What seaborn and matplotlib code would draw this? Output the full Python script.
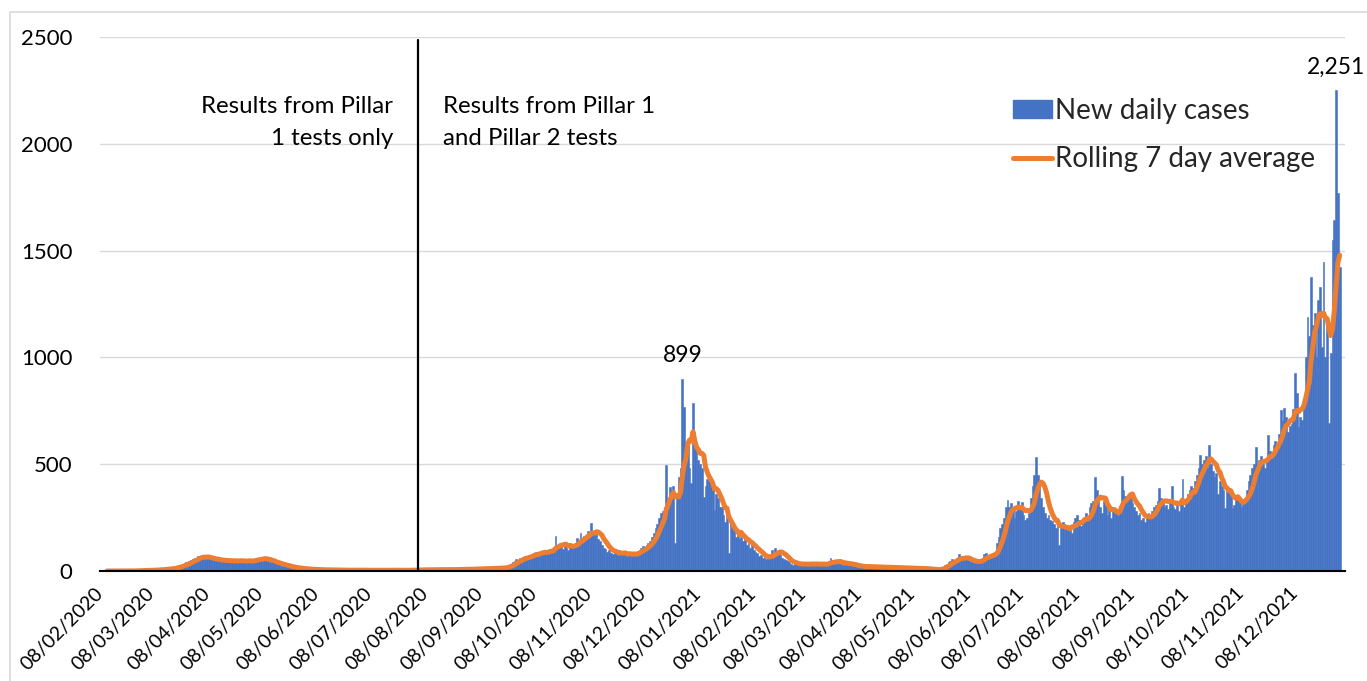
import numpy as np
import pandas as pd
import matplotlib
matplotlib.use("Agg")
import matplotlib.pyplot as plt
import matplotlib.transforms as mtransforms
import seaborn as sns
from matplotlib.patches import Patch, Rectangle
from matplotlib.lines import Line2D

# ---------------- data (new daily cases) ----------------
feb_2020 = [0, 0, 1, 0, 0, 1, 0, 0, 0, 1, 0, 0, 1, 0, 1, 0, 1, 2]  # from 12 Feb
mar_2020 = [1, 2, 1, 3, 2, 4, 3, 5, 4, 6, 5, 7, 6, 8, 9, 8, 10, 12, 14, 13, 18, 20, 24, 22, 30, 35, 40, 38, 45, 50, 55]
apr_2020 = [60, 62, 70, 68, 72, 65, 58, 66, 60, 55, 52, 58, 50, 48, 55, 45, 50, 47, 52, 44, 49, 46, 50, 42, 48, 53, 45, 50, 40, 47]
may_2020 = [48, 52, 44, 50, 58, 55, 62, 60, 53, 65, 50, 48, 42, 45, 40, 36, 32, 35, 28, 25, 27, 22, 20, 18, 17, 15, 14, 12, 13, 10, 11]
jun_2020 = [9, 8, 10, 7, 8, 6, 7, 6, 5, 7, 6, 5, 4, 6, 5, 4, 5, 4, 3, 5, 4, 3, 4, 5, 3, 4, 3, 4, 5, 3]
jul_2020 = [4, 3, 5, 4, 3, 4, 2, 3, 4, 5, 3, 4, 3, 2, 4, 3, 5, 4, 3, 4, 3, 5, 4, 3, 2, 4, 3, 5, 4, 3, 4]
aug_2020 = [4, 5, 6, 4, 5, 7, 6, 5, 8, 6, 7, 5, 6, 8, 7, 6, 5, 7, 8, 6, 5, 7, 6, 8, 9, 7, 6, 8, 7, 9, 8]
sep_2020 = [8, 9, 10, 8, 11, 9, 12, 10, 11, 13, 12, 10, 14, 12, 11, 15, 13, 14, 12, 16, 18, 15, 20, 28, 35, 40, 45, 55, 50, 60]
oct_2020 = [55, 65, 70, 62, 75, 68, 80, 85, 90, 78, 82, 95, 88, 92, 85, 90, 105, 95, 110, 164, 120, 120, 130, 105, 125, 115, 100, 131, 110, 120, 125]
nov_2020 = [154, 140, 178, 150, 165, 160, 185, 175, 225, 180, 170, 190, 150, 140, 120, 110, 105, 90, 98, 85, 80, 95, 88, 75, 82, 78, 90, 85, 72, 80]
dec_2020 = [78, 70, 85, 80, 95, 100, 110, 115, 105, 120, 130, 140, 160, 180, 200, 220, 250, 270,
            280, 300, 496, 330, 393, 380, 400, 130, 350, 440, 480, 899, 768]
jan_2021 = [600, 620, 480, 410, 786, 600, 560, 520, 500, 480, 346, 400, 430, 420, 426, 380, 285, 360, 340, 300,
            300, 260, 230, 270, 84, 225, 200, 190, 160, 180, 150]
feb_2021 = [160, 140, 150, 120, 130, 110, 125, 100, 90, 85, 70, 75, 60, 65, 55, 60, 70, 98, 85, 107, 90, 100, 75, 60, 55, 50, 45, 40]
mar_2021 = [35, 30, 38, 32, 28, 36, 30, 34, 31, 35, 29, 33, 36, 30, 34, 32, 28, 35, 31, 33, 30, 45, 60, 40, 50, 42, 38, 35, 40, 30, 36]
apr_2021 = [38, 32, 30, 28, 25, 22, 20, 24, 18, 22, 20, 19, 23, 17, 21, 18, 20, 16, 19, 22, 15, 18, 17, 20, 14, 16, 18, 15, 17, 13]
may_2021 = [16, 14, 15, 13, 16, 12, 14, 15, 11, 13, 12, 14, 10, 12,
            11, 9, 8, 7, 6, 5, 4, 5, 10, 15, 20, 28, 35, 40, 45, 55, 50]
jun_2021 = [50, 60, 80, 55, 65, 58, 62, 50, 45, 40, 42, 38, 45, 48, 55, 60, 80, 85, 68, 65, 72, 80, 78, 131, 160, 200, 220, 250, 300, 332]
jul_2021 = [300, 320, 290, 250, 280, 330, 300, 324, 260, 238, 250, 270, 340, 400, 450, 534, 450, 400, 340, 300,
            270, 250, 260, 240, 232, 220, 200, 250, 122, 210, 230]
aug_2021 = [220, 200, 190, 210, 180, 230, 250, 260, 240, 210, 230, 250, 270, 240, 300, 320, 330, 440, 380, 350,
            300, 270, 330, 310, 260, 290, 250, 300, 270, 280, 260]
sep_2021 = [300, 445, 380, 350, 330, 360, 340, 320, 300, 280, 260, 270, 240, 250, 230, 260, 270, 250, 280, 300,
            310, 330, 390, 340, 320, 300, 310, 290, 330, 398]
oct_2021 = [300, 290, 310, 280, 320, 430, 300, 330, 360, 380, 400, 390, 420, 450, 480, 543, 500, 520, 540, 480,
            590, 500, 470, 440, 460, 360, 420, 400, 380, 295, 400]
nov_2021 = [380, 360, 295, 310, 340, 350, 330, 300, 320,
            330, 380, 420, 450, 480, 500, 582, 470, 520, 540,
            500, 480, 520, 636, 560, 530, 590, 610, 580, 640, 753]
dec_2021 = [700, 763, 720, 650, 680, 690, 760, 927, 833, 674, 720, 707, 800, 1000, 1189, 1100, 1376,
            1150, 1207, 1000, 1268, 1329, 1050, 1448, 1000, 1175, 693, 1020, 1549, 1643, 2251]
jan_2022 = [1769, 1423]

month_starts = ["2020-02-12", "2020-03-01", "2020-04-01", "2020-05-01", "2020-06-01", "2020-07-01",
                "2020-08-01", "2020-09-01", "2020-10-01", "2020-11-01", "2020-12-01",
                "2021-01-01", "2021-02-01", "2021-03-01", "2021-04-01", "2021-05-01", "2021-06-01",
                "2021-07-01", "2021-08-01", "2021-09-01", "2021-10-01", "2021-11-01", "2021-12-01",
                "2022-01-01"]
month_values = [feb_2020, mar_2020, apr_2020, may_2020, jun_2020, jul_2020, aug_2020, sep_2020, oct_2020,
                nov_2020, dec_2020, jan_2021, feb_2021, mar_2021, apr_2021, may_2021, jun_2021, jul_2021,
                aug_2021, sep_2021, oct_2021, nov_2021, dec_2021, jan_2022]

tick_labels = [f"08/{m:02d}/{y}" for y, m in
               [(2020, m) for m in range(2, 13)] + [(2021, m) for m in range(1, 13)]]
pillar_line_date = "2020-08-04"
axis_start, axis_end = "2020-02-08", "2022-01-05"

legend_labels = ["New daily cases", "Rolling 7 day average"]
note_left = "Results from Pillar\n1 tests only"
note_right = "Results from Pillar 1\nand Pillar 2 tests"

# ---------------- build table ----------------
frames = []
for start, vals in zip(month_starts, month_values):
    frames.append(pd.DataFrame({"date": pd.date_range(start, periods=len(vals), freq="D"), "cases": vals}))
df = pd.concat(frames, ignore_index=True)
ORIGIN = pd.Timestamp(axis_start)
df["day"] = (df["date"] - ORIGIN).dt.days
df["avg"] = df["cases"].rolling(7, min_periods=1).mean()

def to_day(s):
    return (pd.Timestamp(s) - ORIGIN).days

BLUE = "#4472C4"
ORANGE = "#ED7D31"
GRID = "#D9D9D9"

sns.set_theme(style="white")
plt.rcParams["font.family"] = ["Lato", "DejaVu Sans"]

W, H = 1367, 681
fig = plt.figure(figsize=(W / 100, H / 100), dpi=100)
ax = fig.add_axes([100 / W, 1 - 571 / H, (1345 - 100) / W, (571 - 37) / H])

sns.barplot(data=df, x="day", y="cases", native_scale=True, width=1.0, color=BLUE, saturation=1,
            errorbar=None, linewidth=0.4, edgecolor=BLUE, ax=ax, zorder=2)
sns.lineplot(data=df, x="day", y="avg", color=ORANGE, linewidth=3.6, estimator=None, ax=ax,
             zorder=3, solid_capstyle="round", solid_joinstyle="round")

ax.set_xlim(0, to_day(axis_end))
ax.set_ylim(0, 2500)
ax.set_yticks(np.arange(0, 2501, 500))
ax.set_yticklabels([str(v) for v in range(0, 2501, 500)])
ax.yaxis.grid(True, color=GRID, linewidth=1.0, zorder=0)
ax.xaxis.grid(False)
ax.set_axisbelow(True)
for s in ["left", "right", "top"]:
    ax.spines[s].set_visible(False)
ax.spines["bottom"].set_color("#000000")
ax.spines["bottom"].set_linewidth(1.5)
ax.spines["bottom"].set_zorder(4)

tick_days = [to_day(pd.Timestamp(f"{lbl[6:]}-{lbl[3:5]}-08")) for lbl in tick_labels]
ax.set_xticks(tick_days)
ax.set_xticklabels(tick_labels, rotation=45, ha="right", va="center", fontsize=14)
shift = mtransforms.ScaledTranslation(8 / 100, 0, fig.dpi_scale_trans)
for lab in ax.get_xticklabels():
    lab.set_rotation_mode("anchor")
    lab.set_transform(lab.get_transform() + shift)
ax.tick_params(axis="x", length=0, pad=14, colors="#000000")
ax.tick_params(axis="y", length=0, pad=20, labelsize=16, colors="#000000")
ax.set_xlabel("")
ax.set_ylabel("")

# vertical separator
ax.axvline(to_day(pillar_line_date), ymin=0, ymax=2485 / 2500, color="black", linewidth=1.6, zorder=5)

ax.text(164, 2100, note_left, ha="right", va="center", multialignment="right", fontsize=17.3,
        linespacing=1.68, color="black")
ax.text(192, 2100, note_right, ha="left", va="center", multialignment="left", fontsize=17.3,
        linespacing=1.68, color="black")

# peak labels
wave2 = df[df["date"] < "2021-06-01"]
for sub in [wave2, df]:
    r = sub.loc[sub["cases"].idxmax()]
    ax.annotate(f"{int(r['cases']):,}", xy=(r["day"], r["cases"]), xytext=(0, 9),
                textcoords="offset points", ha="center", va="bottom", fontsize=16.5, color="black")

handles = [Patch(facecolor=BLUE, edgecolor=BLUE),
           Line2D([0], [0], color=ORANGE, linewidth=3.6)]
ax.legend(handles, legend_labels, loc="upper left", bbox_to_anchor=(1013 / W, 1 - 98 / H),
          bbox_transform=fig.transFigure, frameon=False, fontsize=20, handlelength=1.4,
          handletextpad=0.12, labelspacing=0.8, borderpad=0, borderaxespad=0, handleheight=0.6)

fig.add_artist(Rectangle((10 / W, -0.1), 1.2, 1.1 - 12 / H, transform=fig.transFigure,
                         fill=False, edgecolor=GRID, linewidth=1.2))

fig.savefig("out.png", dpi=100)
